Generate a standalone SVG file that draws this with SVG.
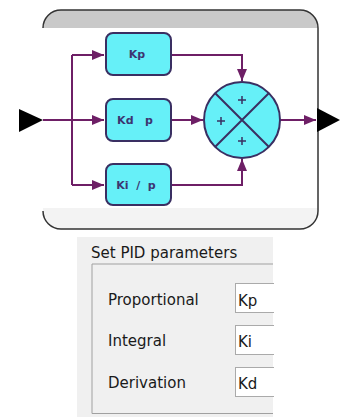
<svg xmlns="http://www.w3.org/2000/svg" width="350" height="417" viewBox="0 0 350 417">
<defs>
<style>
.blk{fill:#66f0f8;stroke:#3a2f62;stroke-width:2}
.blt{font-family:"DejaVu Sans",sans-serif;font-size:11px;font-weight:bold;fill:#3d3570;text-anchor:middle}
.con{fill:none;stroke:#6e1f66;stroke-width:2}
.ui{font-family:"DejaVu Sans",sans-serif;font-size:15px;fill:#1a1a1a}
.tb{fill:#ffffff;stroke:#aaaaaa;stroke-width:1}
.pl{stroke:#3a2f62;stroke-width:1.5}
</style>
<marker id="ah" markerUnits="userSpaceOnUse" markerWidth="12" markerHeight="10" refX="12" refY="5" orient="auto">
<path d="M0,0 L12,5 L0,10 z" fill="#6e1f66"/>
</marker>
</defs>
<rect width="350" height="417" fill="#ffffff"/>
<g id="frame">
<path d="M43,28 A18,18 0 0 1 61,10 H300 A18,18 0 0 1 318,28 Z" fill="#c9c9c9"/>
<path d="M43,208 H318 V211 A18,18 0 0 1 300,229 H61 A18,18 0 0 1 43,211 Z" fill="#f3f3f3"/>
<path d="M43,28 A18,18 0 0 1 61,10 H300 A18,18 0 0 1 318,28 V211 A18,18 0 0 1 300,229 H61 A18,18 0 0 1 43,211" fill="none" stroke="#333333" stroke-width="1.5"/>
<polygon points="19,109 43,120 19,132" fill="#000000"/>
<polygon points="317,108 340,120 317,132" fill="#000000"/>
</g>
<g id="connectors">
<path class="con" d="M43,120 H104" marker-end="url(#ah)"/>
<path class="con" d="M72,55 V185"/>
<path class="con" d="M72,55 H104" marker-end="url(#ah)"/>
<path class="con" d="M72,185 H104" marker-end="url(#ah)"/>
<path class="con" d="M171,55 H242 V81" marker-end="url(#ah)"/>
<path class="con" d="M171,120 H203" marker-end="url(#ah)"/>
<path class="con" d="M171,185 H242 V159" marker-end="url(#ah)"/>
<path class="con" d="M280,120 H316" marker-end="url(#ah)"/>
</g>
<g id="kp">
<rect class="blk" x="106" y="33" width="65" height="42" rx="7"/>
<text class="blt" x="137" y="58">Kp</text>
</g>
<g id="kd">
<rect class="blk" x="106" y="99" width="65" height="42" rx="7"/>
<text class="blt" x="135" y="124" xml:space="preserve">Kd   p</text>
</g>
<g id="ki">
<rect class="blk" x="106" y="164" width="65" height="41" rx="7"/>
<text class="blt" x="136" y="189" xml:space="preserve">Ki  /  p</text>
</g>
<g id="sum">
<circle cx="242" cy="120" r="38" fill="#66f0f8" stroke="#3a2f62" stroke-width="2"/>
<path d="M215,93 L269,147 M269,93 L215,147" stroke="#3a2f62" stroke-width="2"/>
<path class="pl" d="M238,100 H246 M242,96 V104 M217,121 H225 M221,117 V125 M238,141 H246 M242,137 V145"/>
</g>
<g id="panel">
<rect x="77" y="237" width="196" height="180" fill="#f0f0f0"/>
<path d="M92,413.5 V264 H273" fill="none" stroke="#a0a0a0" stroke-width="1"/>
<path d="M92,413.5 H273" fill="none" stroke="#a0a0a0" stroke-width="1"/>
<text class="ui" x="91" y="258">Set PID parameters</text>
<text class="ui" x="108" y="305">Proportional</text>
<text class="ui" x="108" y="346">Integral</text>
<text class="ui" x="108" y="388">Derivation</text>
<rect class="tb" x="235.5" y="283.5" width="40" height="29"/>
<rect class="tb" x="235.5" y="325.5" width="40" height="29"/>
<rect class="tb" x="235.5" y="367.5" width="40" height="29"/>
<rect x="274" y="237" width="76" height="180" fill="#ffffff"/>
<text class="ui" x="238" y="306">Kp</text>
<text class="ui" x="238" y="347">Ki</text>
<text class="ui" x="238" y="389">Kd</text>
</g>
</svg>
